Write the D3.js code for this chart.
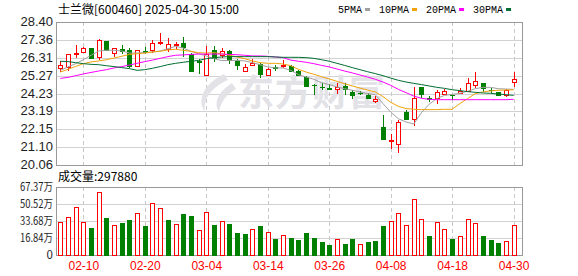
<!DOCTYPE html>
<html>
<head>
<meta charset="utf-8">
<script src="https://cdn.jsdelivr.net/npm/d3@7"></script>
<style>
  body { margin: 0; background: #fff; }
  svg { display: block; }
</style>
</head>
<body>
<svg id="chart" width="578" height="276"></svg>
<script>
// ---- data ----
const title = '士兰微[600460] 2025-04-30 15:00';
const dates = [
  '02-05','02-06','02-07','02-10','02-11','02-12','02-13','02-14','02-17','02-18',
  '02-19','02-20','02-21','02-24','02-25','02-26','02-27','02-28','03-03','03-04',
  '03-05','03-06','03-07','03-10','03-11','03-12','03-13','03-14','03-17','03-18',
  '03-19','03-20','03-21','03-24','03-25','03-26','03-27','03-28','03-31','04-01',
  '04-02','04-03','04-07','04-08','04-09','04-10','04-11','04-14','04-15','04-16',
  '04-17','04-18','04-21','04-22','04-23','04-24','04-25','04-28','04-29','04-30'
];
const open = [
  25.74,25.79,26.56,26.67,26.88,26.38,27.29,26.61,26.84,26.75,
  25.81,26.71,26.75,27.19,26.85,27.05,27.19,26.53,26.10,25.29,
  26.75,26.49,26.69,26.11,25.56,25.87,25.93,25.33,25.79,25.81,
  25.81,25.52,25.19,24.73,24.63,24.53,24.47,24.65,24.32,24.28,
  24.12,23.79,22.28,21.48,21.30,23.15,22.76,24.61,23.99,23.97,
  24.18,24.14,24.24,24.40,24.71,24.84,24.45,24.32,24.16,24.92
];
const high = [
  26.11,26.53,27.06,26.94,26.88,27.43,27.29,26.88,27.04,26.88,
  26.79,26.94,27.33,27.76,27.47,27.23,27.53,26.59,26.26,26.98,
  26.98,26.88,26.75,26.22,25.97,26.22,26.01,25.72,25.91,26.16,
  25.87,25.58,25.23,24.80,24.84,24.80,24.86,24.84,24.41,24.36,
  24.26,24.08,22.96,21.89,22.67,23.25,24.59,24.61,24.08,24.41,
  24.51,24.16,24.55,25.13,25.48,24.84,24.55,24.32,24.51,25.48
];
const low = [
  25.48,25.56,26.28,26.61,26.28,26.16,26.77,26.36,26.53,25.74,
  25.79,26.55,26.61,27.04,26.65,26.84,26.36,25.52,25.39,25.29,
  26.07,26.30,25.97,25.62,25.52,25.83,25.15,25.25,25.54,25.74,
  25.48,25.25,24.61,24.12,24.41,24.41,24.22,24.16,23.89,24.12,
  23.89,23.70,21.56,21.01,20.78,22.67,22.33,23.97,23.73,23.64,
  24.12,23.83,24.20,24.32,24.57,24.32,24.26,24.12,24.03,24.61
];
const close = [
  25.87,26.53,26.60,26.88,26.30,27.33,26.77,26.86,26.69,25.81,
  26.75,26.67,27.18,27.23,27.10,27.13,26.96,25.56,26.05,26.53,
  26.30,26.71,26.16,25.87,25.76,26.03,25.35,25.68,25.74,25.91,
  25.56,25.29,24.67,24.71,24.61,24.51,24.61,24.47,24.16,24.26,
  23.97,23.93,21.56,21.52,22.57,22.76,23.95,24.22,23.93,24.32,
  24.38,24.12,24.38,24.82,24.98,24.55,24.42,24.16,24.42,25.07
];
const volume = [
  330000,373200,471400,327000,268100,628500,366300,294600,317200,346700,
  415400,287800,510700,461600,346700,307400,405600,386000,245500,422300,
  297600,333900,307400,219000,209200,255300,287800,228800,160100,196400,
  169900,150300,219000,169900,130600,101200,157100,111000,160100,108000,
  130600,140400,287800,333900,412500,294600,550000,353600,189500,324100,
  255300,160100,186600,353600,314300,189500,150300,120800,140400,297880
];
// 1 = day closed up (red bar), 0 = down (green bar)
const volumeUp = [
  1,1,1,1,0,1,0,1,0,0,1,0,1,1,0,1,0,0,1,1,
  0,1,0,0,0,1,0,1,0,1,0,0,0,0,0,0,1,0,0,1,
  0,0,0,1,1,1,1,1,0,1,1,0,1,1,1,0,0,0,1,1
];
const ma5 = [
  25.58,25.78,25.97,26.20,26.46,26.71,26.75,26.75,26.71,26.59,
  26.59,26.61,26.65,26.71,26.84,26.98,26.88,26.69,26.55,26.42,
  26.26,26.15,26.16,26.16,26.13,26.03,25.91,25.78,25.72,25.72,
  25.58,25.33,25.19,25.06,24.86,24.75,24.61,24.51,24.42,24.32,
  24.22,24.16,23.64,23.15,22.76,22.57,22.45,23.11,23.60,23.93,
  24.12,24.18,24.24,24.36,24.51,24.59,24.59,24.51,24.49,24.47
];
const ma10 = [
  25.48,25.64,25.81,25.97,26.07,26.13,26.20,26.30,26.40,26.51,
  26.55,26.59,26.65,26.69,26.77,26.81,26.75,26.69,26.61,26.59,
  26.61,26.55,26.46,26.36,26.26,26.13,26.03,25.99,25.99,25.95,
  25.85,25.64,25.48,25.35,25.21,25.08,24.94,24.80,24.67,24.55,
  24.43,24.32,24.05,23.72,23.48,23.35,23.31,23.29,23.29,23.29,
  23.31,23.31,23.64,23.93,24.22,24.32,24.38,24.42,24.43,24.45
];
const ma20 = [
  25.11,25.17,25.27,25.37,25.46,25.54,25.62,25.72,25.80,25.89,
  25.99,26.09,26.18,26.28,26.38,26.46,26.48,26.51,26.53,26.53,
  26.53,26.53,26.51,26.49,26.46,26.42,26.42,26.40,26.36,26.32,
  26.18,26.11,26.05,25.97,25.87,25.78,25.66,25.54,25.43,25.31,
  25.19,25.06,24.90,24.71,24.47,24.28,24.08,23.95,23.89,23.87,
  23.87,23.87,23.87,23.87,23.87,23.87,23.87,23.87,23.87,23.89
];
const ma30 = [
  26.11,26.09,26.03,25.97,25.93,25.91,25.85,25.80,25.74,25.68,
  25.58,25.62,25.70,25.80,25.91,25.99,26.05,26.11,26.16,26.26,
  26.32,26.36,26.38,26.38,26.38,26.38,26.38,26.38,26.36,26.34,
  26.34,26.34,26.32,26.28,26.20,26.11,25.99,25.87,25.74,25.62,
  25.50,25.39,25.27,25.13,25.00,24.90,24.82,24.75,24.67,24.59,
  24.53,24.45,24.40,24.34,24.30,24.26,24.24,24.20,24.16,24.12
];
const maNames = ['5PMA', '10PMA', '20PMA', '30PMA'];
const priceTicks = [28.40, 27.36, 26.31, 25.27, 24.23, 23.19, 22.15, 21.10, 20.06];
const volumeTicks = [0, 168425, 336850, 505275, 673700];
const volumeTickLabels = ['0', '16.84万', '33.68万', '50.52万', '67.37万'];
const dateTicks = ['02-10', '02-20', '03-04', '03-14', '03-26', '04-08', '04-18', '04-30'];
const lastVolume = 297880;

// ---- layout ----
const plotLeft = 56, plotRight = 522;
const priceTop = 22, priceBottom = 165;
const volTop = 187, volBottom = 255;
const red = '#ff0000', green = '#008000';
const maColors = ['#a0a0a0', '#f0a30a', '#ff00ff', '#006e33'];
const cjk = '"Noto Sans CJK SC", "Liberation Sans", sans-serif';

const svg = d3.select('#chart');

const x = d3.scalePoint().domain(dates).range([60.3, 513.6]);
const y = d3.scaleLinear().domain([20.06, 28.40]).range([priceBottom, priceTop]);
const yVol = d3.scaleLinear().domain([0, 673700]).range([volBottom, volTop]);
const px = d => Math.round(x(d));

// title + legend
svg.append('text')
  .attr('x', 58).attr('y', 14)
  .attr('font-family', cjk).attr('font-size', 12).attr('fill', '#000')
  .text(title);

let lx = 338;
maNames.forEach((name, k) => {
  const t = svg.append('text')
    .attr('x', lx).attr('y', 12.5)
    .attr('font-family', '"Liberation Mono", monospace').attr('font-size', 10)
    .attr('fill', '#000')
    .text(name);
  const w = t.node().getComputedTextLength();
  svg.append('rect')
    .attr('x', lx + w + 3).attr('y', 8).attr('width', 5).attr('height', 3)
    .attr('fill', maColors[k]);
  lx += w + 3 + 5 + 9;
});

// price grid + labels
const gPrice = svg.append('g')
  .attr('transform', `translate(${plotLeft},0)`)
  .call(d3.axisLeft(y).tickValues(priceTicks).tickSize(-(plotRight - plotLeft))
    .tickPadding(3).tickFormat(d3.format('.2f')));
gPrice.attr('font-family', '"Liberation Sans", Arial, sans-serif').attr('font-size', 13);
gPrice.select('.domain').remove();
gPrice.selectAll('.tick line').attr('stroke', '#d2d2d2').attr('shape-rendering', 'crispEdges');
gPrice.selectAll('.tick text').attr('fill', '#1e1e1e').attr('dy', '0.28em');

// volume grid + labels
const gVol = svg.append('g')
  .attr('transform', `translate(${plotLeft},0)`)
  .call(d3.axisLeft(yVol).tickValues(volumeTicks).tickSize(-(plotRight - plotLeft))
    .tickPadding(3).tickFormat((d, i) => volumeTickLabels[i]));
gVol.attr('font-family', cjk).attr('font-size', 11.5);
gVol.select('.domain').remove();
gVol.selectAll('.tick line').attr('stroke', '#d2d2d2').attr('shape-rendering', 'crispEdges');
gVol.selectAll('.tick text').attr('fill', '#1e1e1e').attr('dy', '0.32em')
  .each(function (d, i) {
    if (i > 0) d3.select(this).attr('textLength', 33).attr('lengthAdjust', 'spacingAndGlyphs');
  });

// dashed date lines
[[priceTop, priceBottom], [volTop, volBottom]].forEach(([t, b]) => {
  svg.append('g').selectAll('line').data(dateTicks).join('line')
    .attr('x1', d => px(d) + 0.5).attr('x2', d => px(d) + 0.5)
    .attr('y1', t).attr('y2', b)
    .attr('stroke', '#c8c8c8').attr('stroke-dasharray', '4,3');
});

// watermark
const wm = svg.append('g').attr('fill', '#e2e2e7');
wm.append('path')
  .attr('d', 'M224,74 C205,83 196,99 205,112 C203,98 212,87 228,80 Z M232,83 C218,92 213,103 219,112 C221,101 227,94 236,89 Z');
wm.append('text')
  .attr('x', 238).attr('y', 106)
  .attr('font-family', cjk).attr('font-size', 36).attr('font-weight', 'bold')
  .attr('letter-spacing', 1)
  .text('东方财富');

// borders
svg.append('rect')
  .attr('x', plotLeft + 0.5).attr('y', priceTop + 0.5)
  .attr('width', plotRight - plotLeft).attr('height', priceBottom - priceTop)
  .attr('fill', 'none').attr('stroke', '#999');
svg.append('rect')
  .attr('x', plotLeft + 0.5).attr('y', volTop + 0.5)
  .attr('width', plotRight - plotLeft).attr('height', volBottom - volTop)
  .attr('fill', 'none').attr('stroke', '#999');

// candles
const idx = d3.range(dates.length);
const candles = svg.append('g').attr('shape-rendering', 'crispEdges');
idx.forEach(i => {
  const cx = px(dates[i]);
  const up = close[i] >= open[i];
  const col = up ? red : green;
  const top = Math.round(y(Math.max(open[i], close[i])));
  const bot = Math.round(y(Math.min(open[i], close[i])));
  candles.append('line')
    .attr('x1', cx + 0.5).attr('x2', cx + 0.5)
    .attr('y1', Math.round(y(high[i]))).attr('y2', Math.round(y(low[i])))
    .attr('stroke', col);
  if (up) {
    candles.append('rect')
      .attr('x', cx - 1.5).attr('y', top + 0.5)
      .attr('width', 4).attr('height', Math.max(0, bot - top))
      .attr('fill', '#fff').attr('stroke', col);
  } else {
    candles.append('rect')
      .attr('x', cx - 2).attr('y', top)
      .attr('width', 5).attr('height', Math.max(1, bot - top + 1))
      .attr('fill', col);
  }
});

// moving averages
[ma5, ma10, ma20, ma30].forEach((series, k) => {
  svg.append('path')
    .datum(series)
    .attr('fill', 'none')
    .attr('stroke', maColors[k])
    .attr('stroke-width', 1)
    .attr('d', d3.line().x((d, i) => x(dates[i])).y(d => y(d)));
});

// volume bars
const bars = svg.append('g').attr('shape-rendering', 'crispEdges');
idx.forEach(i => {
  const cx = px(dates[i]);
  const top = Math.round(yVol(volume[i]));
  if (volumeUp[i]) {
    bars.append('rect')
      .attr('x', cx - 1.5).attr('y', top + 0.5)
      .attr('width', 4).attr('height', volBottom - top)
      .attr('fill', '#fff').attr('stroke', red);
  } else {
    bars.append('rect')
      .attr('x', cx - 2).attr('y', top)
      .attr('width', 5).attr('height', volBottom - top + 1)
      .attr('fill', green);
  }
});

svg.append('text')
  .attr('x', 58).attr('y', 181)
  .attr('font-family', cjk).attr('font-size', 12).attr('fill', '#000')
  .text('成交量:' + lastVolume);

// date axis
const gx = svg.append('g')
  .attr('transform', `translate(0,${volBottom})`)
  .call(d3.axisBottom(x).tickValues(dateTicks).tickSize(0).tickPadding(6));
gx.attr('font-family', '"Liberation Sans", Arial, sans-serif').attr('font-size', 12);
gx.select('.domain').remove();
gx.selectAll('.tick text').attr('fill', red);
</script>
</body>
</html>
